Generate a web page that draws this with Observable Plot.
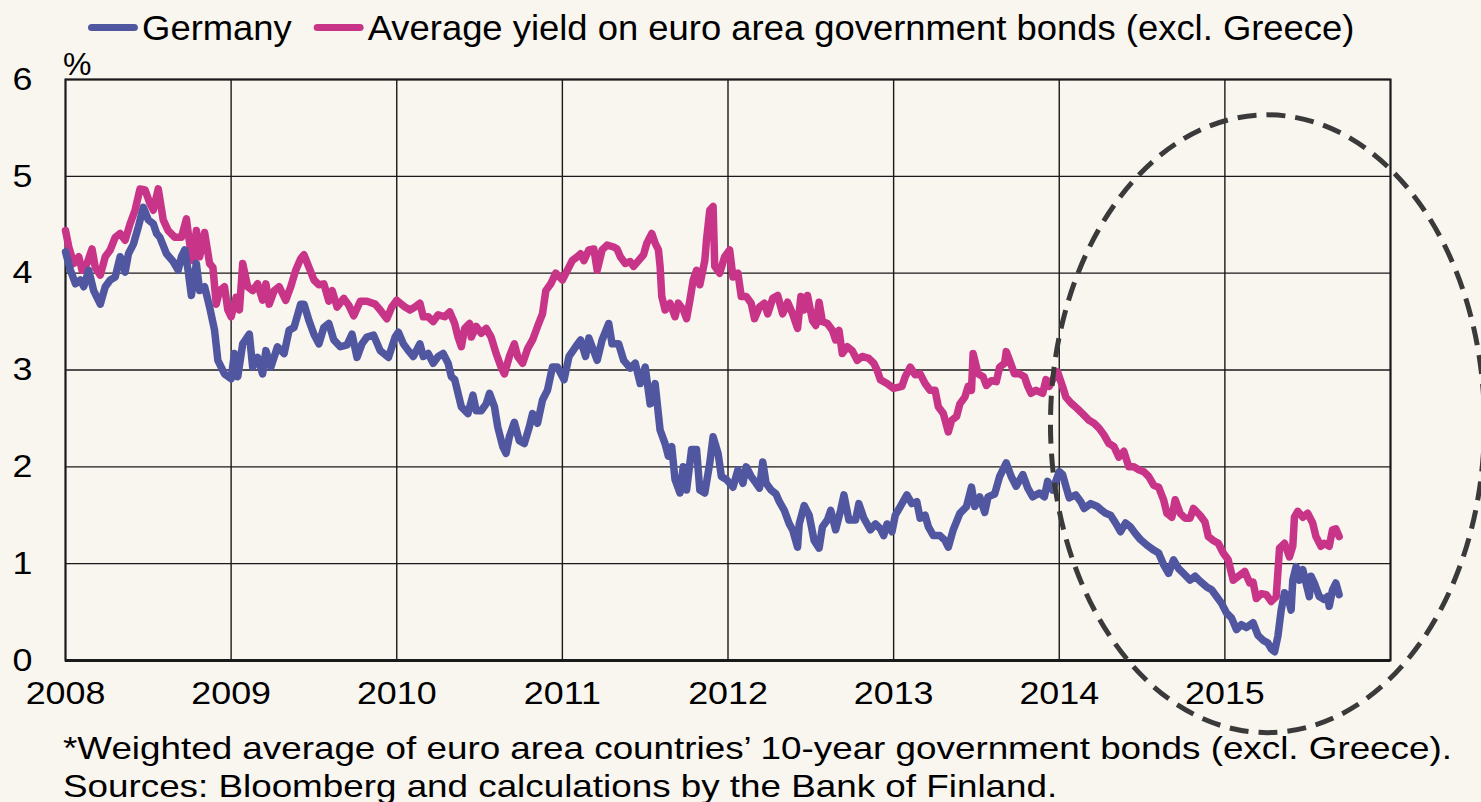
<!DOCTYPE html>
<html>
<head>
<meta charset="utf-8">
<script src="https://cdn.jsdelivr.net/npm/d3@7"></script>
<script src="https://cdn.jsdelivr.net/npm/@observablehq/plot@0.6"></script>
<style>
  html, body { margin: 0; padding: 0; background: #f9f5ef; }
  body { width: 1481px; height: 802px; position: relative; overflow: hidden; font-family: "Liberation Sans", Arial, sans-serif; color: #000; }
  #legend { position: absolute; top: 8px; left: 88px; font-size: 35px; line-height: 39px; display: flex; align-items: center; white-space: nowrap; transform: scaleX(1.04); transform-origin: 0 0; }
  #legend .sw { display: inline-block; width: 48px; height: 7px; border-radius: 4px; margin-right: 4px; }
  #legend .item { display: flex; align-items: center; margin-right: 21px; }
  #unit { position: absolute; left: 63px; top: 46px; font-size: 32px; line-height: 36px; }
  #chart { position: absolute; left: 0; top: 50px; }
  #note { position: absolute; left: 63px; top: 729px; font-size: 32px; line-height: 38px; white-space: nowrap; transform: scaleX(1.15); transform-origin: 0 0; }
</style>
</head>
<body>
<div id="legend"></div>
<div id="unit">%</div>
<div id="chart"></div>
<div id="note"></div>
<script>
// ---- Data ----
const seriesNames = ["Germany", "Average yield on euro area government bonds (excl. Greece)"];
const seriesColors = ["#5057a0", "#c83488"];
const xTickYears = [2008, 2009, 2010, 2011, 2012, 2013, 2014, 2015];
const xGridYears = [2008, 2009, 2010, 2011, 2012, 2013, 2014, 2015, 2016];
const yTicks = [0, 1, 2, 3, 4, 5, 6];
const noteLines = [
  "*Weighted average of euro area countries\u2019 10-year government bonds (excl. Greece).",
  "Sources: Bloomberg and calculations by the Bank of Finland."
];

const deYears = [2008.00,2008.03,2008.06,2008.09,2008.11,2008.14,2008.17,2008.21,2008.24,2008.27,2008.30,2008.33,2008.36,2008.38,2008.41,2008.44,2008.47,2008.50,2008.53,2008.55,2008.57,2008.61,2008.65,2008.68,2008.70,2008.72,2008.74,2008.76,2008.79,2008.81,2008.84,2008.87,2008.90,2008.92,2008.96,2009.00,2009.02,2009.04,2009.07,2009.11,2009.13,2009.16,2009.19,2009.21,2009.24,2009.28,2009.32,2009.35,2009.38,2009.42,2009.44,2009.47,2009.50,2009.53,2009.56,2009.59,2009.62,2009.66,2009.70,2009.73,2009.76,2009.79,2009.82,2009.86,2009.90,2009.95,2009.99,2010.01,2010.04,2010.07,2010.10,2010.14,2010.16,2010.19,2010.22,2010.25,2010.28,2010.31,2010.33,2010.35,2010.37,2010.39,2010.43,2010.46,2010.48,2010.51,2010.54,2010.56,2010.59,2010.61,2010.64,2010.66,2010.68,2010.71,2010.74,2010.77,2010.80,2010.82,2010.85,2010.88,2010.91,2010.94,2010.97,2011.01,2011.04,2011.08,2011.11,2011.14,2011.16,2011.21,2011.24,2011.28,2011.30,2011.34,2011.37,2011.41,2011.44,2011.47,2011.50,2011.53,2011.56,2011.59,2011.62,2011.64,2011.66,2011.68,2011.71,2011.73,2011.75,2011.78,2011.81,2011.83,2011.86,2011.89,2011.91,2011.94,2011.96,2011.99,2012.03,2012.06,2012.09,2012.11,2012.14,2012.17,2012.19,2012.21,2012.23,2012.26,2012.29,2012.31,2012.34,2012.37,2012.39,2012.42,2012.43,2012.46,2012.49,2012.52,2012.55,2012.57,2012.60,2012.62,2012.65,2012.68,2012.70,2012.73,2012.77,2012.79,2012.82,2012.86,2012.89,2012.92,2012.94,2012.96,2012.99,2013.01,2013.04,2013.08,2013.11,2013.14,2013.16,2013.19,2013.21,2013.24,2013.28,2013.31,2013.33,2013.36,2013.40,2013.44,2013.47,2013.49,2013.52,2013.55,2013.57,2013.61,2013.64,2013.68,2013.71,2013.74,2013.78,2013.81,2013.84,2013.88,2013.91,2013.93,2013.96,2014.00,2014.02,2014.04,2014.06,2014.10,2014.13,2014.15,2014.19,2014.23,2014.25,2014.28,2014.31,2014.34,2014.37,2014.40,2014.43,2014.46,2014.49,2014.53,2014.57,2014.60,2014.63,2014.66,2014.69,2014.72,2014.75,2014.79,2014.82,2014.85,2014.89,2014.92,2014.95,2014.98,2015.01,2015.04,2015.07,2015.10,2015.13,2015.17,2015.20,2015.23,2015.26,2015.28,2015.30,2015.32,2015.34,2015.36,2015.38,2015.40,2015.41,2015.43,2015.45,2015.47,2015.49,2015.51,2015.52,2015.54,2015.57,2015.60,2015.62,2015.63,2015.65,2015.67,2015.69];
const deYield = [4.22,4.03,3.89,3.93,3.86,4.03,3.82,3.68,3.86,3.93,3.96,4.17,4.01,4.20,4.30,4.48,4.68,4.55,4.51,4.41,4.37,4.20,4.12,4.03,4.17,4.24,4.03,3.77,4.10,3.82,3.86,3.65,3.41,3.10,2.96,2.91,3.17,2.93,3.27,3.37,3.03,3.13,2.96,3.20,3.03,3.24,3.17,3.41,3.44,3.68,3.68,3.51,3.37,3.27,3.44,3.48,3.31,3.24,3.26,3.37,3.13,3.27,3.34,3.36,3.20,3.13,3.34,3.39,3.27,3.20,3.14,3.27,3.14,3.17,3.07,3.14,3.17,3.07,2.93,2.90,2.76,2.62,2.55,2.74,2.58,2.58,2.65,2.76,2.62,2.41,2.21,2.14,2.31,2.46,2.27,2.24,2.41,2.55,2.45,2.69,2.79,3.03,3.03,2.90,3.14,3.24,3.31,3.14,3.33,3.10,3.31,3.48,3.27,3.27,3.10,3.02,3.07,2.86,3.03,2.65,2.86,2.38,2.24,2.11,2.21,1.87,1.73,2.00,1.76,2.18,2.18,1.76,1.73,2.04,2.31,2.14,1.90,1.87,1.79,1.97,1.83,2.00,1.90,1.83,1.78,2.05,1.83,1.76,1.72,1.64,1.55,1.41,1.35,1.17,1.41,1.60,1.50,1.24,1.16,1.38,1.45,1.55,1.35,1.55,1.71,1.45,1.45,1.62,1.47,1.35,1.41,1.36,1.29,1.41,1.33,1.50,1.59,1.71,1.62,1.64,1.47,1.50,1.38,1.29,1.29,1.24,1.17,1.35,1.52,1.59,1.79,1.59,1.69,1.53,1.69,1.72,1.90,2.04,1.90,1.80,1.92,1.78,1.69,1.73,1.69,1.85,1.76,1.95,1.92,1.80,1.68,1.71,1.64,1.57,1.62,1.59,1.56,1.52,1.50,1.42,1.33,1.42,1.38,1.31,1.25,1.19,1.14,1.11,0.99,0.90,1.04,0.95,0.90,0.83,0.87,0.82,0.76,0.73,0.66,0.59,0.49,0.44,0.32,0.37,0.34,0.39,0.26,0.21,0.18,0.12,0.09,0.25,0.52,0.70,0.66,0.52,0.83,0.97,0.83,0.94,0.80,0.66,0.87,0.80,0.66,0.63,0.66,0.56,0.73,0.80,0.68];

const euYears = [2008.00,2008.02,2008.05,2008.08,2008.10,2008.13,2008.16,2008.18,2008.21,2008.24,2008.27,2008.30,2008.33,2008.36,2008.39,2008.42,2008.45,2008.48,2008.51,2008.53,2008.56,2008.59,2008.62,2008.66,2008.70,2008.73,2008.75,2008.77,2008.79,2008.81,2008.84,2008.87,2008.89,2008.91,2008.93,2008.96,2008.98,2009.00,2009.03,2009.05,2009.07,2009.10,2009.13,2009.16,2009.19,2009.21,2009.23,2009.26,2009.29,2009.33,2009.36,2009.39,2009.42,2009.44,2009.47,2009.50,2009.53,2009.56,2009.59,2009.61,2009.64,2009.68,2009.71,2009.74,2009.78,2009.82,2009.87,2009.90,2009.94,2009.97,2010.00,2010.05,2010.08,2010.11,2010.14,2010.16,2010.19,2010.22,2010.25,2010.29,2010.32,2010.35,2010.37,2010.39,2010.41,2010.44,2010.45,2010.48,2010.51,2010.54,2010.57,2010.60,2010.63,2010.65,2010.68,2010.71,2010.73,2010.76,2010.79,2010.82,2010.85,2010.88,2010.90,2010.93,2010.96,2011.00,2011.03,2011.06,2011.09,2011.11,2011.13,2011.16,2011.19,2011.21,2011.24,2011.27,2011.31,2011.33,2011.35,2011.38,2011.41,2011.43,2011.46,2011.49,2011.51,2011.54,2011.56,2011.58,2011.59,2011.60,2011.62,2011.65,2011.68,2011.70,2011.73,2011.75,2011.77,2011.79,2011.81,2011.83,2011.86,2011.87,2011.89,2011.91,2011.92,2011.95,2011.98,2012.01,2012.03,2012.06,2012.08,2012.11,2012.14,2012.16,2012.19,2012.22,2012.24,2012.27,2012.30,2012.33,2012.36,2012.39,2012.42,2012.44,2012.46,2012.48,2012.51,2012.53,2012.55,2012.57,2012.60,2012.63,2012.65,2012.67,2012.69,2012.72,2012.75,2012.78,2012.81,2012.85,2012.88,2012.90,2012.92,2012.96,2013.00,2013.05,2013.07,2013.10,2013.13,2013.16,2013.19,2013.22,2013.25,2013.27,2013.30,2013.33,2013.35,2013.38,2013.40,2013.43,2013.45,2013.47,2013.48,2013.51,2013.54,2013.56,2013.59,2013.62,2013.64,2013.67,2013.68,2013.70,2013.73,2013.76,2013.79,2013.81,2013.83,2013.86,2013.90,2013.92,2013.94,2013.96,2013.99,2014.02,2014.04,2014.07,2014.11,2014.14,2014.18,2014.21,2014.24,2014.27,2014.30,2014.33,2014.36,2014.39,2014.42,2014.45,2014.48,2014.51,2014.54,2014.57,2014.60,2014.63,2014.65,2014.68,2014.70,2014.73,2014.76,2014.79,2014.81,2014.85,2014.88,2014.90,2014.93,2014.96,2014.99,2015.02,2015.05,2015.09,2015.12,2015.15,2015.17,2015.19,2015.22,2015.25,2015.28,2015.31,2015.33,2015.36,2015.39,2015.41,2015.42,2015.44,2015.47,2015.50,2015.53,2015.55,2015.58,2015.60,2015.63,2015.65,2015.67,2015.69];
const euYield = [4.44,4.27,4.10,4.17,4.03,4.10,4.25,4.06,3.98,4.17,4.24,4.37,4.41,4.34,4.51,4.65,4.87,4.86,4.72,4.65,4.87,4.55,4.44,4.37,4.37,4.56,4.30,4.13,4.44,4.17,4.42,4.10,4.06,3.68,3.82,3.86,3.62,3.55,3.75,3.62,4.10,3.86,3.82,3.89,3.72,3.89,3.68,3.82,3.86,3.72,3.86,4.03,4.15,4.19,4.06,3.93,3.88,3.89,3.71,3.82,3.65,3.74,3.67,3.56,3.71,3.71,3.68,3.62,3.53,3.65,3.72,3.65,3.62,3.65,3.69,3.55,3.55,3.50,3.57,3.55,3.60,3.48,3.34,3.24,3.43,3.48,3.34,3.45,3.38,3.43,3.34,3.17,3.03,2.96,3.14,3.27,3.14,3.07,3.22,3.31,3.45,3.58,3.82,3.89,4.00,3.93,4.03,4.13,4.17,4.20,4.13,4.24,4.25,4.03,4.24,4.29,4.27,4.25,4.17,4.10,4.12,4.07,4.13,4.19,4.31,4.41,4.31,4.24,4.07,3.76,3.62,3.69,3.55,3.69,3.62,3.53,3.72,3.93,4.03,3.88,4.13,4.34,4.65,4.69,4.07,4.00,4.17,4.24,3.96,4.00,3.76,3.76,3.69,3.53,3.65,3.69,3.58,3.74,3.77,3.58,3.70,3.58,3.43,3.76,3.62,3.77,3.51,3.46,3.70,3.50,3.48,3.41,3.31,3.41,3.17,3.24,3.20,3.10,3.14,3.12,3.07,3.00,2.90,2.86,2.81,2.83,2.93,3.03,2.95,2.96,2.86,2.79,2.79,2.62,2.55,2.36,2.48,2.52,2.65,2.72,2.83,2.79,3.17,2.96,2.93,2.84,2.89,2.88,3.03,3.07,3.19,3.10,2.96,2.96,2.93,2.83,2.76,2.79,2.76,2.90,2.83,2.90,2.98,2.83,2.72,2.66,2.60,2.55,2.48,2.45,2.40,2.33,2.24,2.21,2.10,2.16,2.00,2.00,1.97,1.95,1.90,1.81,1.79,1.66,1.52,1.48,1.66,1.52,1.47,1.47,1.57,1.50,1.43,1.28,1.24,1.21,1.11,1.04,0.83,0.88,0.92,0.80,0.81,0.64,0.69,0.68,0.61,0.66,1.16,1.21,1.07,1.18,1.48,1.54,1.48,1.52,1.42,1.28,1.18,1.21,1.18,1.35,1.36,1.28];

// Highlight ellipse annotation (centre year/value, half-widths in years/percentage points)
const highlight = { year: 2015.26, value: 2.44, halfYears: 1.31, halfValue: 3.19 };

// ---- Legend & notes ----
const legend = document.getElementById("legend");
seriesNames.forEach((name, i) => {
  const item = document.createElement("span");
  item.className = "item";
  const sw = document.createElement("span");
  sw.className = "sw";
  sw.style.background = seriesColors[i];
  item.appendChild(sw);
  item.appendChild(document.createTextNode(name));
  legend.appendChild(item);
});
document.getElementById("note").innerHTML = noteLines.map(l => `<div>${l}</div>`).join("");

// ---- Chart ----
const de = deYears.map((t, i) => ({ t, v: deYield[i] }));
const eu = euYears.map((t, i) => ({ t, v: euYield[i] }));

const chart = Plot.plot({
  width: 1481,
  height: 690,
  marginLeft: 65,
  marginRight: 91,
  marginTop: 29,
  marginBottom: 80,
  style: { background: "transparent", fontFamily: "'Liberation Sans', Arial, sans-serif", fontSize: "32px", color: "#000", overflow: "visible" },
  x: { domain: [2008, 2016], ticks: xTickYears, tickFormat: d => String(d), tickSize: 0, tickPadding: 21, label: null },
  y: { domain: [0, 6], ticks: yTicks, tickFormat: d => String(d), tickSize: 0, tickPadding: 33, label: null },
  marks: [
    Plot.ruleX(xGridYears, { stroke: "#1a1a1a", strokeWidth: 1.4 }),
    Plot.ruleY(yTicks, { stroke: "#1a1a1a", strokeWidth: 1.4 }),
    Plot.frame({ stroke: "#1a1a1a", strokeWidth: 2 }),
    Plot.ruleY([0], { stroke: "#1a1a1a", strokeWidth: 3 }),
    Plot.line(eu, { x: "t", y: "v", stroke: seriesColors[1], strokeWidth: 7.5, strokeLinejoin: "round", strokeLinecap: "round" }),
    Plot.line(de, { x: "t", y: "v", stroke: seriesColors[0], strokeWidth: 7.5, strokeLinejoin: "round", strokeLinecap: "round" })
  ]
});
document.getElementById("chart").appendChild(chart);

// Widen tick labels slightly to match the reference's wide lettering
d3.select(chart).selectAll("g[aria-label$='tick label'] text, g[aria-label$='axis'] text").each(function () {
  const len = this.getComputedTextLength();
  if (len > 0) {
    this.setAttribute("textLength", len * 1.12);
    this.setAttribute("lengthAdjust", "spacingAndGlyphs");
  }
});

// Dashed highlight ellipse, positioned through the plot's own scales
function project(scale, v) {
  if (typeof scale.apply === "function") return scale.apply(v);
  const [d0, d1] = scale.domain, [r0, r1] = scale.range;
  return r0 + (v - d0) / (d1 - d0) * (r1 - r0);
}
const sx = chart.scale("x"), sy = chart.scale("y");
const cx = project(sx, highlight.year), cy = project(sy, highlight.value);
const rx = Math.abs(project(sx, highlight.year + highlight.halfYears) - cx);
const ry = Math.abs(project(sy, highlight.value + highlight.halfValue) - cy);
d3.select(chart).append("ellipse")
  .attr("cx", cx).attr("cy", cy).attr("rx", rx).attr("ry", ry)
  .attr("fill", "none").attr("stroke", "#3a3a3a").attr("stroke-width", 5)
  .attr("stroke-dasharray", "19 10");
</script>
</body>
</html>
